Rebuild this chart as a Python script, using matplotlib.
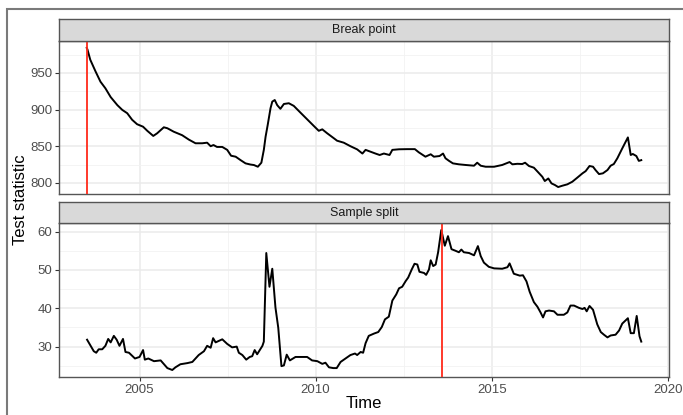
import numpy as np
import matplotlib
matplotlib.use("Agg")
import matplotlib.pyplot as plt
from matplotlib.patches import Rectangle

plt.rcParams['font.family'] = ['Liberation Sans', 'DejaVu Sans']

# Break point statistic (top panel)
bp_time = [2003.50, 2003.52, 2003.60, 2003.75, 2003.89, 2004.03, 2004.18, 2004.37, 2004.51,
           2004.65, 2004.79, 2004.93, 2005.10, 2005.22, 2005.39, 2005.50, 2005.69, 2005.79,
           2005.97, 2006.21, 2006.40, 2006.59, 2006.78, 2006.92, 2007.02, 2007.10, 2007.20,
           2007.35, 2007.49, 2007.60, 2007.73, 2007.87, 2008.01, 2008.15, 2008.25, 2008.36,
           2008.46, 2008.53, 2008.58, 2008.64, 2008.72, 2008.77, 2008.84, 2008.91, 2009.00,
           2009.10, 2009.24, 2009.38, 2009.57, 2009.76, 2009.95, 2010.09, 2010.19, 2010.33,
           2010.52, 2010.61, 2010.80, 2010.99, 2011.18, 2011.33, 2011.42, 2011.56, 2011.70,
           2011.82, 2011.94, 2012.10, 2012.18, 2012.37, 2012.60, 2012.82, 2012.93, 2013.12,
           2013.27, 2013.36, 2013.52, 2013.62, 2013.69, 2013.79, 2013.90, 2014.07, 2014.26,
           2014.50, 2014.59, 2014.69, 2014.83, 2015.07, 2015.30, 2015.51, 2015.59, 2015.73,
           2015.87, 2015.95, 2016.06, 2016.20, 2016.33, 2016.44, 2016.51, 2016.61, 2016.70,
           2016.80, 2016.89, 2017.00, 2017.15, 2017.29, 2017.43, 2017.58, 2017.67, 2017.78,
           2017.88, 2017.95, 2018.05, 2018.16, 2018.29, 2018.38, 2018.47, 2018.57, 2018.71,
           2018.87, 2018.95, 2019.01, 2019.11, 2019.18, 2019.25]
bp_stat = [984, 982, 968, 952, 938, 929, 917, 906, 899.5,
           895, 886, 880, 876.6, 871, 864, 867.6, 875.8, 874.5,
           869.8, 865, 859, 854, 854, 854.8, 850, 851.6, 849,
           849, 845, 837, 835.7, 831, 826.6, 825, 824.3, 822,
           827.5, 845, 863, 879, 901.8, 910.8, 913, 906, 901,
           907.6, 908.6, 905, 895.8, 886.7, 877.6, 871, 873, 867.6,
           860.8, 857.5, 854.8, 850, 845.7, 840, 845, 842.5, 840,
           838, 840, 838, 845, 845.8, 846, 846, 841.7, 835.7,
           839, 835.7, 836.6, 840, 833.5, 830, 826.6, 825.3, 824.4,
           823.4, 827.5, 823.4, 822, 822, 824.4, 828.4, 825.3, 826,
           825.7, 827.5, 823, 820.7, 814, 808.3, 802.5, 806, 799.3,
           797, 794.3, 796, 798, 801.5, 807, 813, 816, 823,
           822, 817.5, 812, 813, 817.5, 823.4, 825.7, 833.5, 847,
           862, 838, 839.4, 836.6, 830, 831]

# Sample split statistic (bottom panel)
ss_time = [2003.51, 2003.61, 2003.70, 2003.77, 2003.84, 2003.94, 2004.03, 2004.11, 2004.18,
           2004.27, 2004.35, 2004.43, 2004.53, 2004.60, 2004.70, 2004.87, 2005.00, 2005.10,
           2005.15, 2005.25, 2005.41, 2005.60, 2005.79, 2005.93, 2006.02, 2006.16, 2006.36,
           2006.50, 2006.68, 2006.83, 2006.92, 2007.02, 2007.09, 2007.16, 2007.35, 2007.49,
           2007.63, 2007.76, 2007.82, 2007.92, 2008.03, 2008.13, 2008.20, 2008.27, 2008.34,
           2008.49, 2008.53, 2008.60, 2008.69, 2008.77, 2008.86, 2008.94, 2009.03, 2009.10,
           2009.18, 2009.27, 2009.43, 2009.76, 2009.90, 2010.05, 2010.19, 2010.28, 2010.38,
           2010.50, 2010.60, 2010.71, 2010.85, 2010.99, 2011.12, 2011.18, 2011.28, 2011.35,
           2011.42, 2011.51, 2011.66, 2011.78, 2011.88, 2011.97, 2012.08, 2012.18, 2012.29,
           2012.37, 2012.46, 2012.56, 2012.63, 2012.73, 2012.81, 2012.89, 2012.95, 2013.08,
           2013.14, 2013.22, 2013.27, 2013.34, 2013.41, 2013.48, 2013.57, 2013.67, 2013.76,
           2013.86, 2013.97, 2014.07, 2014.14, 2014.21, 2014.36, 2014.50, 2014.61, 2014.69,
           2014.78, 2014.92, 2015.07, 2015.30, 2015.45, 2015.51, 2015.63, 2015.80, 2015.89,
           2015.99, 2016.08, 2016.20, 2016.30, 2016.39, 2016.46, 2016.53, 2016.63, 2016.77,
           2016.87, 2017.05, 2017.15, 2017.24, 2017.34, 2017.48, 2017.58, 2017.64, 2017.70,
           2017.78, 2017.88, 2018.00, 2018.10, 2018.19, 2018.29, 2018.38, 2018.52, 2018.62,
           2018.71, 2018.87, 2018.95, 2019.04, 2019.12, 2019.20, 2019.25]
ss_stat = [31.8, 30.2, 28.8, 28.4, 29.3, 29.3, 30.2, 32.0, 31.1,
           32.8, 31.8, 30.2, 32.0, 28.6, 28.4, 26.9, 27.3, 29.1,
           26.6, 26.9, 26.2, 26.4, 24.4, 23.9, 24.6, 25.4, 25.7,
           26.0, 27.8, 28.8, 30.2, 29.7, 32.2, 31.1, 31.9, 30.7,
           29.8, 30.0, 28.4, 27.8, 26.6, 27.3, 27.5, 29.1, 28.0,
           30.2, 31.3, 54.4, 45.6, 50.3, 40.2, 34.9, 24.9, 25.1,
           27.9, 26.4, 27.3, 27.3, 26.4, 26.2, 25.5, 25.8, 24.6,
           24.4, 24.4, 26.0, 26.9, 27.8, 28.2, 27.8, 28.6, 28.4,
           30.9, 32.8, 33.4, 33.8, 35.1, 37.1, 37.8, 42.0, 43.6,
           45.2, 45.6, 47.1, 48.0, 50.1, 51.6, 51.4, 49.5, 49.2,
           48.7, 50.1, 52.5, 51.0, 51.4, 54.6, 60.4, 56.3, 58.8,
           55.4, 55.0, 54.6, 55.3, 54.6, 54.4, 53.8, 56.2, 53.6,
           51.9, 50.8, 50.4, 50.3, 50.7, 51.7, 49.0, 48.5, 48.6,
           47.0, 44.3, 41.6, 40.4, 38.9, 37.6, 39.2, 39.4, 39.2,
           38.3, 38.3, 38.9, 40.7, 40.7, 40.1, 39.8, 40.1, 39.2,
           40.6, 39.6, 35.8, 33.8, 33.1, 32.4, 32.9, 33.1, 34.2,
           36.0, 37.4, 33.5, 33.5, 38.0, 32.7, 31.3]

panels = ["Break point", "Sample split"]
break_dates = [2003.5, 2013.58]
y_major = [[800, 850, 900, 950], [30, 40, 50, 60]]
y_minor = [[825, 875, 925, 975], [25, 35, 45, 55]]
x_major = [2005, 2010, 2015, 2020]
x_minor = [2007.5, 2012.5, 2017.5]

W, H = 683, 415
fig = plt.figure(figsize=(W / 100, H / 100), dpi=100)

def fx(px):
    return px / W

def fy(py):
    return 1 - py / H

left, right = 59, 669
boxes = [(19, 41, 194), (202, 223, 377)]  # strip top, panel top, panel bottom

border = '#555555'
x_all = bp_time + ss_time
xr = max(x_all) - min(x_all)
xlim = (min(x_all) - 0.05 * xr, max(x_all) + 0.05 * xr)

series = [(bp_time, bp_stat), (ss_time, ss_stat)]
for i, (st, pt, pb) in enumerate(boxes):
    ax = fig.add_axes([fx(left), fy(pb), fx(right - left), fy(pt) - fy(pb)])
    t, v = series[i]
    ax.plot(t, v, color='black', lw=1.4, zorder=3)
    ax.axvline(break_dates[i], color='#FF2A1A', lw=1.3, zorder=4)
    yr = max(v) - min(v)
    ax.set_ylim(min(v) - 0.05 * yr, max(v) + 0.05 * yr)
    ax.set_xlim(*xlim)
    ax.set_yticks(y_major[i])
    ax.set_yticks(y_minor[i], minor=True)
    ax.set_xticks(x_major)
    ax.set_xticks(x_minor, minor=True)
    ax.grid(True, which='major', color='#EBEBEB', lw=1.1, zorder=0)
    ax.grid(True, which='minor', color='#F2F2F2', lw=0.6, zorder=0)
    ax.set_axisbelow(True)
    for s in ax.spines.values():
        s.set_color(border)
        s.set_linewidth(1.0)
    ax.tick_params(which='minor', length=0)
    ax.tick_params(which='major', length=3, width=0.8, color='#333333',
                   labelsize=9.5, labelcolor='#4D4D4D', pad=2)
    if i == 0:
        ax.tick_params(axis='x', which='major', length=0, labelbottom=False)
    else:
        ax.set_xticklabels([str(x) for x in x_major])

    # facet strip
    sax = fig.add_axes([fx(left), fy(pt), fx(right - left), fy(st) - fy(pt)])
    sax.set_facecolor('#D9D9D9')
    sax.set_xticks([])
    sax.set_yticks([])
    for s in sax.spines.values():
        s.set_color(border)
        s.set_linewidth(1.0)
    sax.text(0.5, 0.5, panels[i], ha='center', va='center', fontsize=9,
             color='#1A1A1A', transform=sax.transAxes)

fig.text(fx(21), fy(200), "Test statistic", rotation=90, ha='center', va='center',
         fontsize=12, color='black')
fig.text(fx(364), fy(403), "Time", ha='center', va='center', fontsize=12, color='black')

# outer frame of the original figure
fig.add_artist(Rectangle((fx(7), -0.1), 1.2, fy(9) + 0.1, transform=fig.transFigure,
                         fill=False, edgecolor='#7A7A7A', lw=1.5))

fig.savefig("out.png", dpi=100)
